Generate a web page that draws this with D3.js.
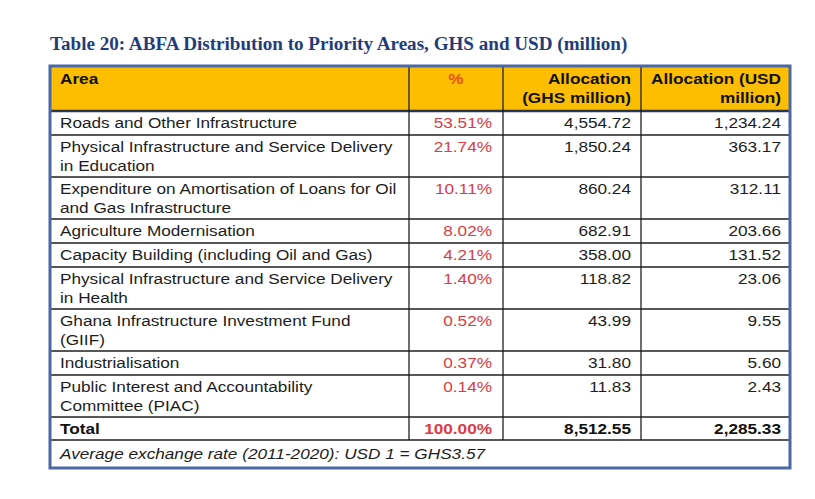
<!DOCTYPE html>
<html><head><meta charset="utf-8">
<script src="https://cdn.jsdelivr.net/npm/d3@7"></script>
<style>body{margin:0;background:#fff}svg{display:block}</style>
</head><body><div id="chart"></div>
<script>
// ---- data ----
const title = "Table 20: ABFA Distribution to Priority Areas, GHS and USD (million)";
const headers = [["Area"], ["%"], ["Allocation", "(GHS million)"], ["Allocation (USD", "million)"]];
const areas = [
  ["Roads and Other Infrastructure"],
  ["Physical Infrastructure and Service Delivery", "in Education"],
  ["Expenditure on Amortisation of Loans for Oil", "and Gas Infrastructure"],
  ["Agriculture Modernisation"],
  ["Capacity Building (including Oil and Gas)"],
  ["Physical Infrastructure and Service Delivery", "in Health"],
  ["Ghana Infrastructure Investment Fund", "(GIIF)"],
  ["Industrialisation"],
  ["Public Interest and Accountability", "Committee (PIAC)"]
];
const pct = [53.51, 21.74, 10.11, 8.02, 4.21, 1.40, 0.52, 0.37, 0.14];
const ghs = [4554.72, 1850.24, 860.24, 682.91, 358.00, 118.82, 43.99, 31.80, 11.83];
const usd = [1234.24, 363.17, 312.11, 203.66, 131.52, 23.06, 9.55, 5.60, 2.43];
const totalLabel = "Total";
const totalPct = 100.00, totalGhs = 8512.55, totalUsd = 2285.33;
const note = "Average exchange rate (2011-2020): USD 1 = GHS3.57";

// ---- layout ----
const W = 815, H = 499;
const svg = d3.select("#chart").append("svg").attr("width", W).attr("height", H);
const tLeft = 50, tRight = 790, tTop = 66;
const colEdges = [tLeft, 409, 503, 641, tRight];
const headerH = 45, line1H = 24, line2H = 42, totalH = 23, noteH = 28;
const fs = 15.5, sx = 1.11;
const fmtNum = d3.format(",.2f");
const fmtPct = v => d3.format(".2f")(v) + "%";

const rows = areas.map((a, i) => ({lines: a, pct: pct[i], ghs: ghs[i], usd: usd[i]}));
let yPos = tTop + headerH;
rows.forEach(r => { r.y0 = yPos; r.h = r.lines.length > 1 ? line2H : line1H; yPos += r.h; });
const totalY = yPos, noteY = totalY + totalH, tBottom = noteY + noteH;

const textColor = "#1d1d1d", red = "#dc3b43";

// title
svg.append("text").attr("x", tLeft).attr("y", 50)
  .attr("font-family", "'Liberation Serif', 'Times New Roman', serif")
  .attr("font-weight", "bold").attr("font-size", 19.1).attr("fill", "#1f3d7a")
  .text(title);

// header fill
svg.append("rect").attr("x", tLeft).attr("y", tTop).attr("width", tRight - tLeft).attr("height", headerH)
  .attr("fill", "#fdbd00");

function txt(x, yb, s, anchor, opts = {}) {
  svg.append("text")
    .attr("transform", `translate(${x},${yb}) scale(${sx},1)`)
    .attr("text-anchor", anchor)
    .attr("font-family", "'Liberation Sans', Arial, sans-serif")
    .attr("font-size", fs)
    .attr("font-weight", opts.bold ? "bold" : "normal")
    .attr("font-style", opts.italic ? "italic" : "normal")
    .attr("fill", opts.color || textColor)
    .text(s);
}
const padL = 10, padR = 9, base1 = 17, lineGap = 19;
const anchorX = [colEdges[0] + padL, colEdges[2] - padR - 2, colEdges[3] - padR - 1, colEdges[4] - padR];
const anchors = ["start", "end", "end", "end"];

// headers
headers.forEach((h, c) => {
  h.forEach((s, k) => {
    const x = c === 1 ? (colEdges[1] + colEdges[2]) / 2 : anchorX[c];
    txt(x, tTop + base1 + k * lineGap + 1, s, c === 1 ? "middle" : anchors[c],
        {bold: true, color: c === 1 ? "#ea5220" : "#111"});
  });
});

// body rows
rows.forEach(r => {
  r.lines.forEach((s, k) => txt(anchorX[0], r.y0 + base1 + k * lineGap, s, "start"));
  txt(anchorX[1], r.y0 + base1, fmtPct(r.pct), "end", {color: red});
  txt(anchorX[2], r.y0 + base1, fmtNum(r.ghs), "end");
  txt(anchorX[3], r.y0 + base1, fmtNum(r.usd), "end");
});
// total
txt(anchorX[0], totalY + base1, totalLabel, "start", {bold: true, color: "#111"});
txt(anchorX[1], totalY + base1, fmtPct(totalPct), "end", {bold: true, color: red});
txt(anchorX[2], totalY + base1, fmtNum(totalGhs), "end", {bold: true, color: "#111"});
txt(anchorX[3], totalY + base1, fmtNum(totalUsd), "end", {bold: true, color: "#111"});
// note
txt(anchorX[0], noteY + 19, note, "start", {italic: true});

// grid lines
const g = svg.append("g").attr("stroke", "#1f1f1f").attr("stroke-width", 1.3).attr("fill", "none");
const hLines = rows.map(r => r.y0).slice(1).concat([totalY, noteY]);
hLines.forEach(yy => g.append("line").attr("x1", tLeft).attr("x2", tRight).attr("y1", yy).attr("y2", yy));
g.append("line").attr("x1", tLeft).attr("x2", tRight).attr("y1", tTop + headerH).attr("y2", tTop + headerH)
  .attr("stroke-width", 2.5).attr("stroke", "#2a3550");
colEdges.slice(1, 4).forEach(xx => g.append("line").attr("x1", xx).attr("x2", xx).attr("y1", tTop).attr("y2", noteY));
// outer border
svg.append("rect").attr("x", tLeft).attr("y", tTop).attr("width", tRight - tLeft).attr("height", tBottom - tTop)
  .attr("fill", "none").attr("stroke", "#4a68a6").attr("stroke-width", 3);
</script></body></html>
